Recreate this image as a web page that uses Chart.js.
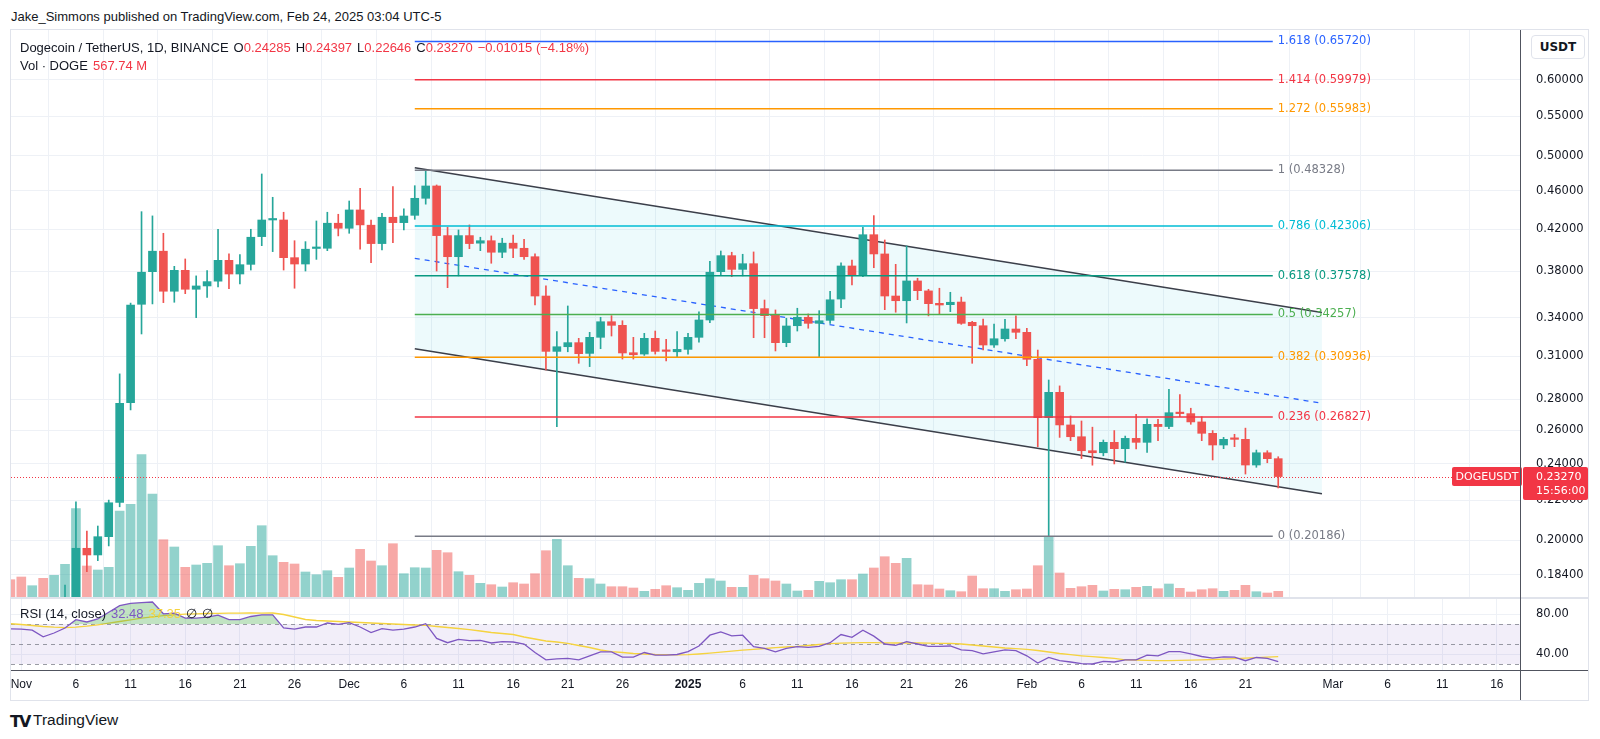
<!DOCTYPE html>
<html><head><meta charset="utf-8">
<script src="https://cdn.jsdelivr.net/npm/chart.js@4.4.1/dist/chart.umd.min.js"></script>
<style>
html,body{margin:0;padding:0;background:#fff;width:1600px;height:739px;overflow:hidden;}
#wrap{position:relative;width:1600px;height:739px;font-family:'Liberation Sans',Arial,sans-serif;color:#131722;}
canvas{position:absolute;left:0;}
.t{position:absolute;white-space:nowrap;line-height:1;}
.ln{position:absolute;}
.r{color:#f23645;}
.g{margin-left:5px;}
</style></head>
<body><div id="wrap">
<div class="t" style="left:11px;top:10px;font-size:13px;">Jake_Simmons published on TradingView.com, Feb 24, 2025 03:04 UTC-5</div>
<div class="ln" style="left:10px;top:29px;width:1579px;height:672px;border:1px solid #e0e3eb;box-sizing:border-box;"></div>
<canvas id="main" width="1600" height="591" style="top:18px"></canvas>
<canvas id="rsi" width="1600" height="105" style="top:587px"></canvas>
<div class="ln" style="left:11px;top:597px;width:1577px;height:2px;background:#e0e3eb;"></div>
<div class="ln" style="left:11px;top:670px;width:1577px;height:1px;background:#50535e;"></div>
<div class="ln" style="left:1520px;top:30px;width:1px;height:670px;background:#50535e;"></div>
<div class="t" style="left:20px;top:41px;font-size:13px;">Dogecoin / TetherUS, 1D, BINANCE<span class="g">O</span><span class="r">0.24285</span><span class="g">H</span><span class="r">0.24397</span><span class="g">L</span><span class="r">0.22646</span><span class="g">C</span><span class="r">0.23270</span><span class="g r">−0.01015 (−4.18%)</span></div>
<div class="t" style="left:20px;top:59px;font-size:13px;">Vol · DOGE<span class="g r">567.74 M</span></div>
<div class="t" style="left:1531px;top:35px;width:54px;height:24px;border:1px solid #e0e3eb;border-radius:4px;box-sizing:border-box;background:#fff;font:bold 12px 'DejaVu Sans';line-height:22px;text-align:center;">USDT</div>
<div class="t" style="left:20px;top:607px;font-size:13px;">RSI (14, close)<span class="g" style="color:#7e57c2">32.48</span><span class="g" style="color:#f5d33f">37.35</span><span class="g">∅</span><span class="g">∅</span></div>
<div class="t" style="left:10px;top:712px;font:900 16px 'DejaVu Sans';letter-spacing:-2px;">TV</div>
<div class="t" style="left:33px;top:712px;font-size:15.5px;">TradingView</div>
</div>
<script>
const dates = ['Oct 31',
'Nov 1','Nov 2','Nov 3','Nov 4','Nov 5','Nov 6','Nov 7','Nov 8','Nov 9','Nov 10','Nov 11','Nov 12','Nov 13','Nov 14','Nov 15','Nov 16','Nov 17','Nov 18','Nov 19','Nov 20','Nov 21','Nov 22','Nov 23','Nov 24','Nov 25','Nov 26','Nov 27','Nov 28','Nov 29','Nov 30',
'Dec 1','Dec 2','Dec 3','Dec 4','Dec 5','Dec 6','Dec 7','Dec 8','Dec 9','Dec 10','Dec 11','Dec 12','Dec 13','Dec 14','Dec 15','Dec 16','Dec 17','Dec 18','Dec 19','Dec 20','Dec 21','Dec 22','Dec 23','Dec 24','Dec 25','Dec 26','Dec 27','Dec 28','Dec 29','Dec 30','Dec 31',
'Jan 1','Jan 2','Jan 3','Jan 4','Jan 5','Jan 6','Jan 7','Jan 8','Jan 9','Jan 10','Jan 11','Jan 12','Jan 13','Jan 14','Jan 15','Jan 16','Jan 17','Jan 18','Jan 19','Jan 20','Jan 21','Jan 22','Jan 23','Jan 24','Jan 25','Jan 26','Jan 27','Jan 28','Jan 29','Jan 30','Jan 31',
'Feb 1','Feb 2','Feb 3','Feb 4','Feb 5','Feb 6','Feb 7','Feb 8','Feb 9','Feb 10','Feb 11','Feb 12','Feb 13','Feb 14','Feb 15','Feb 16','Feb 17','Feb 18','Feb 19','Feb 20','Feb 21','Feb 22','Feb 23','Feb 24'];

const open = [0.170,0.162,0.159,0.161,0.155,0.163,0.169,0.1961,0.1930,0.2016,
0.2188,0.2775,0.3510,0.3794,0.3984,0.3621,0.3806,0.3638,0.3667,0.3709,
0.3898,0.3773,0.3861,0.4125,0.4292,0.4292,0.3923,0.3864,0.4010,0.4012,
0.4259,0.4208,0.4396,0.4239,0.4057,0.4320,0.4265,0.4340,0.4520,0.4655,
0.4135,0.3932,0.4135,0.4061,0.4085,0.3974,0.4061,0.4012,0.3932,0.3580,
0.3137,0.3172,0.3203,0.3122,0.3244,0.3367,0.3338,0.3127,0.3117,0.3236,
0.3141,0.3134,0.3152,0.3244,0.3381,0.3794,0.3942,0.3815,0.3867,0.3474,
0.3422,0.3203,0.3335,0.3403,0.3354,0.3378,0.3554,0.3846,0.3758,0.4144,
0.3958,0.3580,0.3540,0.3711,0.3624,0.3518,0.3507,0.3529,0.3362,0.3335,
0.3185,0.3233,0.3309,0.3283,0.3078,0.2678,0.2845,0.2632,0.2559,0.2475,
0.2463,0.2525,0.2487,0.2549,0.2525,0.2636,0.2622,0.2712,0.2704,0.2651,
0.2580,0.2509,0.2549,0.2543,0.2392,0.2463,0.24285];
const high = [0.172,0.166,0.163,0.162,0.163,0.1796,0.2191,0.2043,0.2068,0.2200,
0.2973,0.3520,0.4378,0.4334,0.4158,0.3843,0.3911,0.3756,0.3803,0.4198,
0.3958,0.3951,0.4198,0.4790,0.4531,0.4372,0.4085,0.4076,0.4282,0.4372,
0.4351,0.4491,0.4629,0.4292,0.4361,0.4647,0.4407,0.4658,0.48328,0.4666,
0.4218,0.4191,0.4242,0.4119,0.4132,0.4109,0.4141,0.4099,0.3958,0.3667,
0.3288,0.3496,0.3236,0.3283,0.3403,0.3416,0.3375,0.3244,0.3275,0.3293,
0.3228,0.3288,0.3275,0.3447,0.3889,0.3986,0.3974,0.3955,0.3977,0.3546,
0.3463,0.3395,0.3477,0.3430,0.3457,0.3621,0.3876,0.3901,0.4218,0.4337,
0.4092,0.3861,0.4034,0.3735,0.3638,0.3647,0.3612,0.3571,0.3370,0.3389,
0.3349,0.3386,0.3414,0.3315,0.3147,0.2930,0.2889,0.2689,0.2657,0.2618,
0.2539,0.2597,0.2563,0.2700,0.2671,0.2667,0.2866,0.2829,0.2739,0.2684,
0.2597,0.2555,0.2574,0.2612,0.2479,0.2475,0.24397];
const low = [0.160,0.156,0.157,0.150,0.152,0.160,0.166,0.1855,0.1904,0.1972,
0.2165,0.2728,0.3270,0.3513,0.3524,0.3527,0.3600,0.3400,0.3569,0.3658,
0.3643,0.3685,0.3809,0.4037,0.3980,0.3809,0.3647,0.3800,0.3907,0.3989,
0.4132,0.4158,0.4003,0.3876,0.3996,0.4066,0.4191,0.4299,0.4457,0.3800,
0.3652,0.3756,0.4008,0.3989,0.3871,0.3923,0.3923,0.3907,0.3504,0.3001,
0.2621,0.3134,0.3049,0.3025,0.3157,0.3254,0.3080,0.3080,0.3107,0.3117,
0.3066,0.3093,0.3117,0.3206,0.3359,0.3761,0.3749,0.3756,0.3241,0.3241,
0.3140,0.3172,0.3293,0.3315,0.3093,0.3354,0.3482,0.3676,0.3750,0.3830,
0.3465,0.3444,0.3357,0.3549,0.3414,0.3424,0.3449,0.3346,0.3049,0.3147,
0.3167,0.3215,0.3233,0.3032,0.2499,0.20186,0.2555,0.2535,0.2429,0.2391,
0.2445,0.2398,0.2408,0.2485,0.2465,0.2535,0.2609,0.2684,0.2636,0.2535,
0.2421,0.2487,0.2499,0.2341,0.2379,0.2405,0.22646];
const close = [0.162,0.159,0.161,0.155,0.163,0.169,0.1961,0.1930,0.2016,0.2186,
0.2771,0.3504,0.3789,0.3984,0.3621,0.3806,0.3638,0.3667,0.3705,0.3898,
0.3773,0.3858,0.4119,0.4292,0.4299,0.3923,0.3864,0.4003,0.4014,0.4259,
0.4208,0.4396,0.4242,0.4057,0.4320,0.4265,0.4333,0.4520,0.4655,0.4135,
0.3932,0.4135,0.4057,0.4085,0.3974,0.4061,0.4012,0.3932,0.3580,0.3137,
0.3172,0.3203,0.3120,0.3244,0.3367,0.3338,0.3125,0.3112,0.3236,0.3137,
0.3137,0.3152,0.3244,0.3381,0.3789,0.3942,0.3815,0.3867,0.3474,0.3416,
0.3203,0.3333,0.3403,0.3354,0.3375,0.3548,0.3846,0.3758,0.4144,0.3958,
0.3580,0.3540,0.3711,0.3626,0.3515,0.3504,0.3527,0.3354,0.3335,0.3185,
0.3233,0.3309,0.3283,0.3078,0.2678,0.2845,0.2632,0.2559,0.2475,0.2463,
0.2525,0.2487,0.2549,0.2525,0.2636,0.2622,0.2710,0.2704,0.2651,0.2580,
0.2509,0.2543,0.2543,0.2392,0.2463,0.24285,0.2327];
// volume in millions of DOGE
const volume = [1730,2000,1130,1870,2170,3270,8830,3100,2700,2970,
8600,9270,14230,10300,5730,5000,2970,3200,3370,5130,
3130,3330,5070,7130,4130,3470,3300,2500,2230,2630,
1970,2900,4770,3600,3130,5330,2330,2930,2900,4670,
4430,2530,2170,1370,1230,1000,1430,1300,2330,4630,
5770,3130,1870,1830,1300,1030,1030,900,570,770,
1130,930,670,1370,1830,1600,970,970,2170,1830,
1600,1300,600,670,1570,1430,1730,1730,2300,2900,
4030,3370,3870,1230,1200,800,630,530,2100,830,
830,570,730,800,3130,6000,2400,870,1030,1170,
600,770,730,970,1070,830,1300,870,500,730,
830,570,670,1170,530,400,567.74];
const rsi = [65.1,64.8,63.8,57.2,61.0,66.0,74.3,72.0,75.0,81.8,
88.4,90.7,91.3,92.0,80.2,80.8,75.9,75.9,76.9,78.9,
74.3,74.3,77.5,79.2,79.2,66.0,64.8,67.0,67.0,71.0,
69.7,71.3,67.0,61.5,65.4,63.8,64.8,67.0,70.3,55.6,
51.3,54.6,53.3,53.6,51.0,52.3,52.0,50.0,41.5,34.2,
35.2,35.6,34.2,38.2,42.1,42.1,36.9,36.9,41.5,38.8,
38.8,39.5,42.4,48.0,58.8,62.1,58.2,58.8,47.4,45.7,
42.1,45.7,47.4,46.7,47.7,51.3,59.5,56.6,63.8,57.9,
50.0,48.7,52.3,50.0,47.7,47.7,48.0,44.1,43.4,40.2,
42.1,44.1,43.4,38.2,31.0,36.5,33.3,32.0,30.3,30.0,
32.6,32.0,34.2,34.2,38.8,38.2,42.4,42.4,40.2,37.5,
35.9,37.2,36.9,33.3,36.5,35.6,32.48];
const rsiMa = [70.3,69.5,68.5,67.5,66.8,66.4,66.8,67.8,69.2,70.8,
72.5,74.2,75.8,77.2,78.3,79.2,79.8,80.2,80.5,80.7,
80.8,80.9,81,80.8,81,79.5,77,74.5,73.5,73,
72.5,72,71.5,71,70.5,70,69.5,69,68.7,67.5,
66.5,65.5,64.4,63,61.5,60.5,59.5,57,55,53,
52,50.6,48.5,46.5,44,42.4,41.5,40.5,40,39.5,
39.3,39.2,39.4,40,40.8,41.8,42.8,43.8,44.7,45.5,
46.3,47,47.6,48.5,49.5,50.3,50.8,51.2,51.3,51.3,
51.2,51,51,51,50.8,50.6,50.6,50,49,48,
47,46,45.3,44.7,43.5,42,40.5,39.3,38.2,37.3,
36.5,35.6,34.2,34,33.6,33.3,33.4,33.6,33.9,34.2,
34.5,34.8,35.3,35.8,36.3,36.8,37.35];

const priceTicks = [0.184,0.20,0.22,0.24,0.26,0.28,0.31,0.34,0.38,0.42,0.46,0.50,0.55,0.60];
const tickDays = [1,6,11,16,21,26,31,36,41,46,51,56,62,67,72,77,82,87,93,98,103,108,113,121,126,131,136];
const tickLabels = ['Nov','6','11','16','21','26','Dec','6','11','16','21','26','2025','6','11','16','21','26','Feb','6','11','16','21','Mar','6','11','16'];
const rsiTicks = [80,40];
const rsiLevels = [70,50,30];

const fibRatios = ['1.618','1.414','1.272','1','0.786','0.618','0.5','0.382','0.236','0'];
const fibPrices = [0.65720,0.59979,0.55983,0.48328,0.42306,0.37578,0.34257,0.30936,0.26827,0.20186];
const fibColors = ['#2962ff','#f23645','#ff9800','#787b86','#00bcd4','#089981','#4caf50','#ff9800','#f23645','#787b86'];
const fibStart = 37, fibEnd = 115.5;
const channelDays = [37,120];
const channelUpper = [0.4862,0.3441];
const channelMid = [0.3917,0.2772];
const channelLower = [0.3157,0.2234];

const xMin = 0.058, xMax = 138.12;
const UP = '#26a69a', DN = '#ef5350';
const GRID = '#eef1f6';
const idx = dates.map((d,i)=>i);
const isUp = idx.map(i => close[i] >= open[i]);

Chart.defaults.font.family = "'DejaVu Sans', sans-serif";
Chart.defaults.color = '#131722';

const fixW = s => { s.width = 80; };

const overlay = {
  id:'overlay',
  afterDatasetsDraw(chart){
    const {ctx, chartArea:a, scales:{x,y}} = chart;
    const last = close[close.length-1];
    const ly = Math.round(y.getPixelForValue(last))+0.5;
    ctx.save();
    ctx.strokeStyle = '#f23645'; ctx.lineWidth = 1; ctx.setLineDash([1,2]);
    ctx.beginPath(); ctx.moveTo(a.left, ly); ctx.lineTo(a.right, ly); ctx.stroke();
    ctx.setLineDash([]);
    ctx.font = "11.5px 'DejaVu Sans'"; ctx.textBaseline = 'middle'; ctx.textAlign = 'left';
    const lx = x.getPixelForValue(fibEnd) + 5;
    fibRatios.forEach((r,k)=>{
      ctx.fillStyle = fibColors[k];
      ctx.fillText(r + ' (' + fibPrices[k].toFixed(5) + ')', lx, y.getPixelForValue(fibPrices[k]));
    });
    ctx.restore();
  },
  afterDraw(chart){
    const {ctx, chartArea:a, scales:{y}} = chart;
    const last = close[close.length-1];
    const py = y.getPixelForValue(last);
    ctx.save();
    ctx.fillStyle = '#f23645';
    ctx.beginPath(); ctx.roundRect(1452, py-9.5, 70, 19, 2); ctx.fill();
    ctx.beginPath(); ctx.roundRect(a.right+3, py-9.5, 65, 33, 2); ctx.fill();
    ctx.fillStyle = '#fff'; ctx.font = "11px 'DejaVu Sans'"; ctx.textBaseline = 'middle';
    ctx.textAlign = 'center'; ctx.fillText('DOGEUSDT', 1487, py+0.5);
    ctx.textAlign = 'left';
    ctx.fillText(last.toFixed(5), a.right+16, py+0.5);
    ctx.fillText('15:56:00', a.right+16, py+15);
    ctx.restore();
  }
};

const line2 = (xs, ys) => xs.map((v,i)=>({x:v, y:ys[i]}));
const datasets = [
  {type:'bar', yAxisID:'yVol', order:100, grouped:false, barThickness:9,
   data: idx.map(i=>({x:i, y:volume[i]})),
   backgroundColor: idx.map(i=> isUp[i] ? 'rgba(38,166,154,0.5)' : 'rgba(239,83,80,0.5)')},
  {type:'line', yAxisID:'y', order:60, data: line2(channelDays, channelUpper),
   borderColor:'#3b3f4a', borderWidth:1.5, pointRadius:0, fill:false},
  {type:'line', yAxisID:'y', order:61, data: line2(channelDays, channelLower),
   borderColor:'#3b3f4a', borderWidth:1.5, pointRadius:0, fill:{target:1}, backgroundColor:'rgba(0,188,212,0.07)'},
  {type:'line', yAxisID:'y', order:59, data: line2(channelDays, channelMid),
   borderColor:'#2962ff', borderWidth:1.3, borderDash:[5,5], pointRadius:0, fill:false},
  {type:'bar', yAxisID:'y', order:50, grouped:false, barThickness:1,
   data: idx.map(i=>({x:i, y:[low[i], high[i]]})),
   backgroundColor: idx.map(i=> isUp[i] ? UP : DN)},
  {type:'bar', yAxisID:'y', order:40, grouped:false, barThickness:8, minBarLength:1.5,
   data: idx.map(i=>({x:i, y:[open[i], close[i]]})),
   backgroundColor: idx.map(i=> isUp[i] ? UP : DN)},
];
fibPrices.forEach((p,k)=>{
  datasets.push({type:'line', yAxisID:'y', order:10, data: line2([fibStart, fibEnd],[p,p]),
    borderColor: fibColors[k], borderWidth:1.5, pointRadius:0, fill:false});
});

new Chart(document.getElementById('main'), {
  data:{datasets},
  options:{
    responsive:false, animation:false, devicePixelRatio:1,
    layout:{padding:{left:11, right:0, top:12, bottom:12}},
    plugins:{legend:{display:false}, tooltip:{enabled:false}},
    elements:{line:{tension:0}},
    scales:{
      x:{type:'linear', min:xMin, max:xMax, offset:false,
         afterBuildTicks: s => { s.ticks = tickDays.map(v=>({value:v})); },
         ticks:{display:false}, border:{display:false},
         grid:{color:GRID, drawTicks:false}},
      y:{type:'logarithmic', position:'right', min:0.17458, max:0.67535,
         afterBuildTicks: s => { s.ticks = priceTicks.map(v=>({value:v})); },
         afterFit: fixW,
         ticks:{padding:0, font:{size:11.5}, color:'#131722', callback: v => Number(v).toFixed(5)},
         border:{display:false},
         grid:{color:GRID, drawTicks:true, tickLength:16, tickColor:'rgba(0,0,0,0)'}},
      yVol:{type:'linear', display:false, min:0, max:56700}
    }
  },
  plugins:[overlay]
});

const rsiBand = {
  id:'rsiBand',
  beforeDatasetsDraw(chart){
    const {ctx, chartArea:a, scales:{y}} = chart;
    const y70 = y.getPixelForValue(rsiLevels[0]), y30 = y.getPixelForValue(rsiLevels[2]);
    ctx.save();
    ctx.fillStyle = 'rgba(126,87,194,0.1)';
    ctx.fillRect(a.left, y70, a.right-a.left, y30-y70);
    ctx.strokeStyle = 'rgba(120,123,134,0.75)'; ctx.lineWidth = 1; ctx.setLineDash([4,4]);
    rsiLevels.forEach(v=>{
      const yy = Math.round(y.getPixelForValue(v))+0.5;
      ctx.beginPath(); ctx.moveTo(a.left, yy); ctx.lineTo(a.right, yy); ctx.stroke();
    });
    ctx.restore();
  }
};

new Chart(document.getElementById('rsi'), {
  type:'line',
  data:{datasets:[
    {data: idx.map(i=>({x:i, y:rsi[i]})), borderColor:'#7e57c2', borderWidth:1.3, pointRadius:0, order:1,
     fill:{target:{value:70}, above:'rgba(76,175,80,0.35)', below:'rgba(0,0,0,0)'}},
    {data: idx.map(i=>({x:i, y:rsiMa[i]})), borderColor:'#f5d33f', borderWidth:1.3, pointRadius:0, order:2, fill:false}
  ]},
  options:{
    responsive:false, animation:false, devicePixelRatio:1,
    layout:{padding:{left:11, right:0, top:12, bottom:0}},
    plugins:{legend:{display:false}, tooltip:{enabled:false}},
    elements:{line:{tension:0}},
    scales:{
      x:{type:'linear', min:xMin, max:xMax, offset:false,
         afterBuildTicks: s => { s.ticks = tickDays.map(v=>({value:v})); },
         afterFit: s => { s.height = 22; },
         ticks:{autoSkip:false, maxRotation:0, padding:7, color:'#131722',
                font: c => ({size:12, family:"'Liberation Sans', Arial, sans-serif", weight: (c.tick && c.tick.label === '2025') ? 'bold' : 'normal'}),
                callback: v => tickLabels[tickDays.indexOf(v)]},
         border:{display:false}, grid:{color:GRID, drawTicks:false}},
      y:{type:'linear', position:'right', min:24, max:95,
         afterBuildTicks: s => { s.ticks = rsiTicks.map(v=>({value:v})); },
         afterFit: fixW,
         ticks:{padding:0, font:{size:11.5}, color:'#131722', callback: v => Number(v).toFixed(2)},
         border:{display:false},
         grid:{color:GRID, drawTicks:true, tickLength:16, tickColor:'rgba(0,0,0,0)'}}
    }
  },
  plugins:[rsiBand]
});
</script>
</body></html>
